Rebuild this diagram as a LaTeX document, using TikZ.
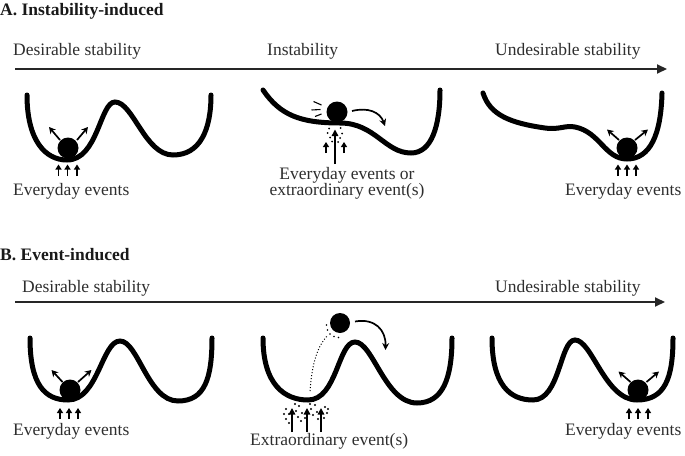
\documentclass[tikz,border=0pt]{standalone}
\usepackage{fontspec}
\setmainfont{Liberation Serif}
\usetikzlibrary{arrows.meta}
\begin{document}
\begin{tikzpicture}[x=1pt,y=-1pt,
  well/.style={line width=5pt, line cap=round},
  lbl/.style={font=\rmfamily\fontsize{17.5}{21}\selectfont, text=black!82, inner sep=0pt, anchor=base west},
  ttl/.style={font=\rmfamily\fontsize{17.5}{21}\selectfont\bfseries, text=black!90, inner sep=0pt, anchor=base west},
  timeline/.style={line width=2pt, black!85, -{Triangle[length=10pt,width=9pt]}},
  kick/.style={line width=1.7pt, -{Stealth[length=6.5pt,width=7pt]}},
  push/.style={line width=1.8pt, -{Triangle[length=5pt,width=6pt]}},
  tall/.style={line width=1.5pt, -{Triangle[length=6.5pt,width=6.5pt]}},
  roll/.style={line width=1.7pt, -{Stealth[length=7pt,width=7pt]}}]
\useasboundingbox (0,0) rectangle (685,455);

% ---------- Titles and time lines ----------
\node[ttl] (tA) at (0,15) {A. Instability-induced};
\node[lbl] (dA) at (13,55.5) {Desirable stability};
\node[lbl] (iA) at (267,55.5) {Instability};
\node[lbl] (uA) at (495,55.5) {Undesirable stability};
\coordinate (a0) at (15,69);
\coordinate (a1) at (667,69);
\draw[timeline] (a0) -- (a1);

\node[ttl] (tB) at (0,260) {B. Event-induced};
\node[lbl] (dB) at (22,292.5) {Desirable stability};
\node[lbl] (uB) at (495,292.5) {Undesirable stability};
\coordinate (b0) at (15,302);
\coordinate (b1) at (665,302);
\draw[timeline] (b0) -- (b1);

% ---------- A1 ----------
\draw[well] (27,95) .. controls (27,140) and (45,160) .. (67,160)
  .. controls (98,160) and (100,102) .. (115,102)
  .. controls (133,102) and (145,155) .. (173,155)
  .. controls (200,155) and (211,130) .. (211,95);
\fill (68,148) circle[radius=10.5];
\draw[kick] (60,140) -- (49,127);
\draw[kick] (77,140) -- (88,127);
\foreach \x in {58.5,67.5,77} \draw[push] (\x,176) -- (\x,164.5);
\node[lbl] (eA1) at (13,195) {Everyday events};

% ---------- A2 ----------
\draw[well] (263,90) .. controls (280,115) and (300,123) .. (340,123)
  .. controls (375,123) and (385,153) .. (411,153)
  .. controls (432,153) and (440,125) .. (440,90);
\fill (337,112) circle[radius=10.5];
\draw[line width=1.1pt] (313.5,101.5) -- (321.5,105);
\draw[line width=1.1pt] (311.5,110) -- (320.5,109.5);
\draw[line width=1.1pt] (315,116.5) -- (321.5,114);
\draw[roll] (352,111) .. controls (368,107) and (380,112) .. (385,126);
\draw[tall] (335,164) -- (335,129.5);
\draw[push] (326,153) -- (326,142);
\draw[push] (344,153) -- (344,142);
\foreach \p in {(329,128.5),(340.5,128),(327.5,133),(342,133.5),(330,137.5),(340,138),(332,141.5),(338,142)}
  \fill \p circle[radius=1];
\node[lbl, anchor=base] (eA2a) at (347,179) {Everyday events or};
\node[lbl, anchor=base] (eA2b) at (347,195) {extraordinary event(s)};

% ---------- A3 ----------
\draw[well] (483,93) .. controls (490,115) and (510,123) .. (545,128)
  .. controls (560,130) and (565,125) .. (575,127)
  .. controls (600,132) and (605,159) .. (627,159)
  .. controls (650,159) and (661,135) .. (662,93);
\fill (627,148) circle[radius=10.5];
\draw[kick] (619,140) -- (607,129.5);
\draw[kick] (635,140) -- (648,129.5);
\foreach \x in {618,627,636} \draw[push] (\x,176) -- (\x,164.5);
\node[lbl] (eA3) at (565,195) {Everyday events};

% ---------- B1 ----------
\draw[well] (30,338) .. controls (30,385) and (45,400) .. (68,400)
  .. controls (98,400) and (102,341) .. (120,341)
  .. controls (138,341) and (148,401) .. (178,401)
  .. controls (205,401) and (212,378) .. (212,338);
\fill (70,390) circle[radius=10.5];
\draw[kick] (62.5,382) -- (51.5,370);
\draw[kick] (78,382) -- (91.5,370);
\foreach \x in {60,69,78} \draw[push] (\x,419) -- (\x,408);
\node[lbl] (eB1) at (13,435.5) {Everyday events};

% ---------- B2 ----------
\draw[well] (263,338) .. controls (263,385) and (285,400) .. (308,400)
  .. controls (337,400) and (338,342) .. (355,342)
  .. controls (373,342) and (385,403) .. (417,403)
  .. controls (443,403) and (452,378) .. (452,338);
\fill (340,323) circle[radius=10];
\draw[line width=1pt, dotted] (310,391) .. controls (312,362) and (318,346) .. (327,336);
\foreach \p in {(326.5,325),(327.5,330),(330,334),(334,336.5),(338.5,337.5)}
  \fill \p circle[radius=0.9];
\draw[roll] (355,321.5) .. controls (375,318) and (386,330) .. (385.5,350);
\foreach \x in {292,307,321} \draw[tall] (\x,432) -- (\x,408);
\foreach \p in {(286,409),(289,414),(286,419),(296,411),(299,406),(298,417),(302,413),
  (311,409),(313,415),(305,418),(315,405),(317,412),(325,407),(327,413),(324,418),(289,423),(301,421),
  (284,414),(295,404),(310,404),(318,419),(328,409)}
  \fill \p circle[radius=1.1];
\node[lbl] (eB2) at (250,445.5) {Extraordinary event(s)};

% ---------- B3 ----------
\draw[well] (492,338) .. controls (492,385) and (510,400) .. (533,400)
  .. controls (560,400) and (560,340) .. (575,340)
  .. controls (592,340) and (605,400) .. (637,400)
  .. controls (665,400) and (673,378) .. (673,338);
\fill (638,390) circle[radius=10.5];
\draw[kick] (630.5,382) -- (618.5,371.5);
\draw[kick] (646.5,382) -- (659,371.5);
\foreach \x in {629,638,648} \draw[push] (\x,419) -- (\x,408);
\node[lbl] (eB3) at (565,435.5) {Everyday events};
\end{tikzpicture}
\end{document}
